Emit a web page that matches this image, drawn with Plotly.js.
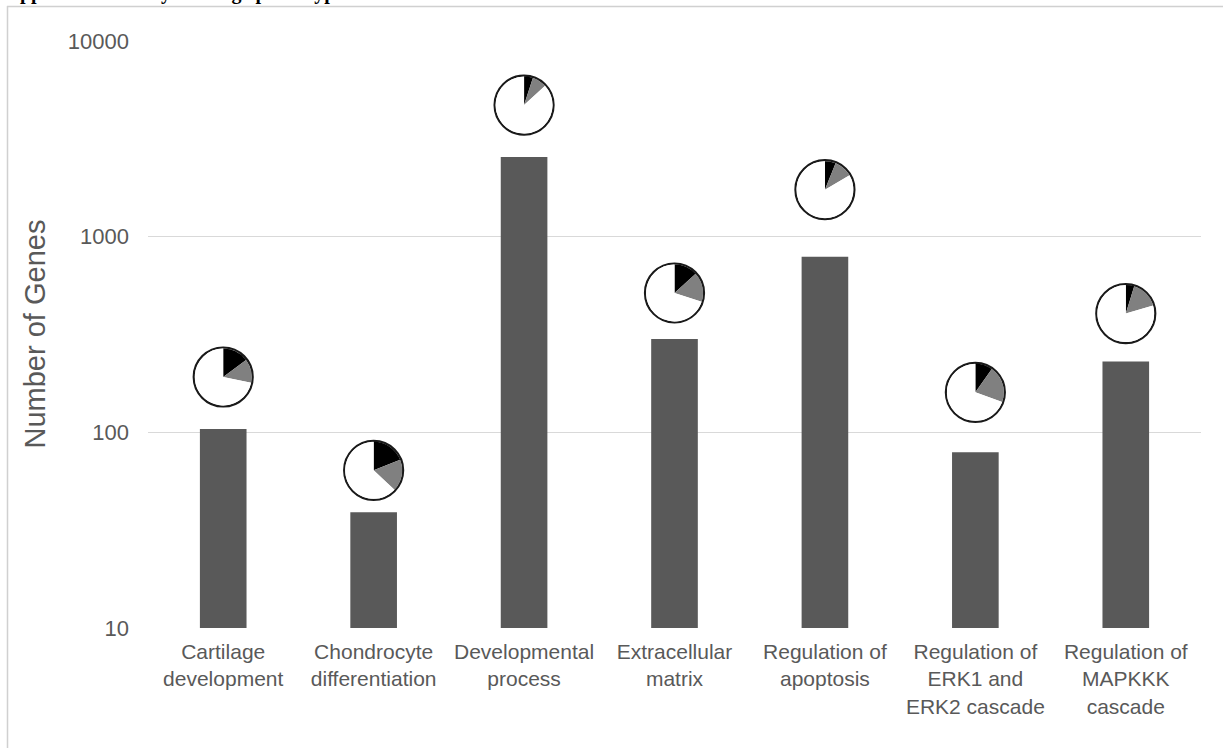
<!DOCTYPE html>
<html>
<head>
<meta charset="utf-8">
<script src="https://cdn.plot.ly/plotly-3.0.1.min.js"></script>
<style>
  html, body { margin: 0; padding: 0; background: #ffffff; }
  #chart { width: 1223px; height: 748px; }
</style>
</head>
<body>
<div id="chart"></div>
<script>
// Gene ontology categories and gene counts per category
const categories = [
  "Cartilage development",
  "Chondrocyte differentiation",
  "Developmental process",
  "Extracellular matrix",
  "Regulation of apoptosis",
  "Regulation of ERK1 and ERK2 cascade",
  "Regulation of MAPKKK cascade"
];
const tickLabels = [
  "Cartilage<br>development",
  "Chondrocyte<br>differentiation",
  "Developmental<br>process",
  "Extracellular<br>matrix",
  "Regulation of<br>apoptosis",
  "Regulation of<br>ERK1 and<br>ERK2 cascade",
  "Regulation of<br>MAPKKK<br>cascade"
];
const geneCounts = [104, 39, 2550, 300, 790, 79, 230];

// Share of each category's genes: black slice, grey slice, remainder (white)
const shareBlack = [0.148, 0.19, 0.05, 0.133, 0.061, 0.098, 0.048];
const shareGrey  = [0.135, 0.18, 0.082, 0.167, 0.105, 0.207, 0.156];
const shareRest  = shareBlack.map((b, i) => 1 - b - shareGrey[i]);

const yTickVals = [10, 100, 1000, 10000];
const yTickText = ["10", "100", "1000", "10000"];

// ---- layout geometry (pixels) ----
const W = 1223, H = 748;
const M = { l: 148, r: 22, t: 41, b: 120 };
const plotW = W - M.l - M.r;
const plotH = H - M.t - M.b;
const yLogMin = 1, yLogMax = 4;
const pieR = 28.5;                              // pie radius in px
const pieLift = [52, 42, 52, 46, 67, 60, 48];   // gap from bar top to pie centre, px

const pxToPaperX = px => (px - M.l) / plotW;
const pxToPaperY = py => 1 - (py - M.t) / plotH;

const xIdx = categories.map((c, i) => i);

const traces = [];

// bars
traces.push({
  type: "bar",
  x: xIdx,
  y: geneCounts,
  width: 0.31,
  marker: { color: "#595959" },
  hoverinfo: "x+y",
  showlegend: false
});

// pie centres, in data space (bar top raised by the lift)
const pieCentreFracY = geneCounts.map((v, i) =>
  (Math.log10(v) - yLogMin) / (yLogMax - yLogMin) + pieLift[i] / plotH);
const pieCentreVal = pieCentreFracY.map(f =>
  Math.pow(10, yLogMin + f * (yLogMax - yLogMin)));

// outline ring under each pie
traces.push({
  type: "scatter",
  mode: "markers",
  x: xIdx,
  y: pieCentreVal,
  marker: {
    symbol: "circle-open",
    size: 2 * pieR + 2,
    color: "#1a1a1a",
    line: { width: 2.2 }
  },
  hoverinfo: "skip",
  showlegend: false
});

// the pies themselves
categories.forEach((c, i) => {
  const cx = (i + 0.5) / categories.length;
  const cy = pieCentreFracY[i];
  const dx = pieR / plotW, dy = pieR / plotH;
  traces.push({
    type: "pie",
    values: [shareBlack[i], shareGrey[i], shareRest[i]],
    labels: ["a", "b", "c"],
    sort: false,
    direction: "clockwise",
    rotation: 0,
    textinfo: "none",
    hoverinfo: "percent",
    marker: { colors: ["#000000", "#808080", "#ffffff"], line: { width: 0 } },
    domain: { x: [cx - dx, cx + dx], y: [cy - dy, cy + dy] },
    showlegend: false
  });
});

const gridColor = "#d9d9d9";
const textColor = "#595959";

const layout = {
  width: W,
  height: H,
  margin: M,
  paper_bgcolor: "#ffffff",
  plot_bgcolor: "#ffffff",
  showlegend: false,
  font: { family: "Liberation Sans, Arial, sans-serif", color: textColor },
  xaxis: {
    range: [-0.5, categories.length - 0.5],
    tickmode: "array",
    tickvals: xIdx,
    ticktext: tickLabels,
    tickfont: { size: 21, color: textColor },
    showgrid: false,
    zeroline: false,
    showline: false,
    ticks: "",
    ticklabelstandoff: 9,
    fixedrange: true
  },
  yaxis: {
    type: "log",
    range: [yLogMin, yLogMax],
    tickmode: "array",
    tickvals: yTickVals,
    ticktext: yTickText,
    tickfont: { size: 22, color: textColor },
    showgrid: true,
    gridcolor: gridColor,
    gridwidth: 1,
    zeroline: false,
    showline: false,
    ticks: "",
    ticklabelstandoff: 18,
    fixedrange: true
  },
  annotations: [
    {
      text: "Number of Genes",
      textangle: -90,
      xref: "paper", yref: "paper",
      x: pxToPaperX(34), y: 0.5,
      xanchor: "center", yanchor: "middle",
      showarrow: false,
      font: { size: 29, color: textColor }
    },
    {
      text: "<b>supported a healthy cartilage phenotype.</b>",
      xref: "paper", yref: "paper",
      x: pxToPaperX(-1), y: pxToPaperY(6),
      xanchor: "left", yanchor: "bottom",
      showarrow: false,
      font: { family: "Liberation Serif, Times New Roman, serif", size: 20, color: "#000000" }
    }
  ],
  shapes: [
    // frame around the chart object
    { type: "line", xref: "paper", yref: "paper",
      x0: pxToPaperX(7), x1: pxToPaperX(W + 5), y0: pxToPaperY(6.5), y1: pxToPaperY(6.5),
      line: { color: "#d0d0d0", width: 1.5 } },
    { type: "line", xref: "paper", yref: "paper",
      x0: pxToPaperX(7.5), x1: pxToPaperX(7.5), y0: pxToPaperY(6), y1: pxToPaperY(H + 5),
      line: { color: "#d0d0d0", width: 1.5 } }
  ]
};

Plotly.newPlot("chart", traces, layout, { displayModeBar: false, staticPlot: true });
</script>
</body>
</html>
